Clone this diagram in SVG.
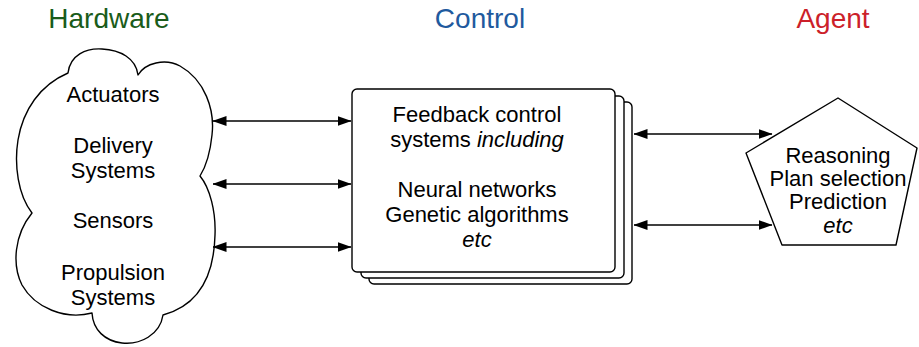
<svg xmlns="http://www.w3.org/2000/svg" width="919" height="347" viewBox="0 0 919 347">
<style>
  .t { font-family: "Liberation Sans", Arial, Helvetica, sans-serif; font-size: 22px; fill: #000; text-anchor: middle; }
  .i { font-style: italic; }
  .h { font-family: "Liberation Sans", Arial, Helvetica, sans-serif; font-size: 28px; text-anchor: middle; }
  .shape { fill: #fff; stroke: #000; stroke-width: 1.4; stroke-linejoin: round; }
  .conn { stroke: #000; stroke-width: 1.4; fill: none; marker-start: url(#ah); marker-end: url(#ah); }
</style>
<defs>
  <marker id="ah" viewBox="0 0 14 10" refX="13.5" refY="5" markerWidth="14" markerHeight="10" markerUnits="userSpaceOnUse" orient="auto-start-reverse">
    <path d="M0,0 L14,5 L0,10 Z" fill="#000"/>
  </marker>
</defs>
<rect width="919" height="347" fill="#fff"/>

<g id="titles">
  <text class="h" x="109" y="28" fill="#1a5c1a">Hardware</text>
  <text class="h" x="480" y="28" fill="#1f5a9e">Control</text>
  <text class="h" x="833" y="28" fill="#cc1f2a">Agent</text>
</g>

<g id="hardware">
  <path class="shape" d="M68,73 C70,55 86,48 102,49 C120,50 136,58 138,75 C145,63 165,58 180,66 C205,80 215,110 212,135 C210,155 205,168 200,176 C210,188 216,212 215,235 C214,275 200,305 163,315 C160,335 140,345 122,343 C105,341 93,330 92,313 C65,320 35,308 22,285 C12,265 14,235 32,213 C18,195 14,165 18,140 C23,110 40,85 68,73 Z"/>
  <text class="t" x="113" y="102">Actuators</text>
  <text class="t" x="113" y="153">Delivery</text>
  <text class="t" x="113" y="178">Systems</text>
  <text class="t" x="113" y="228">Sensors</text>
  <text class="t" x="113" y="280">Propulsion</text>
  <text class="t" x="113" y="305">Systems</text>
</g>

<g id="control">
  <rect class="shape" x="369" y="102" width="263" height="182" rx="5"/>
  <rect class="shape" x="361" y="96" width="263" height="182" rx="5"/>
  <rect class="shape" x="352" y="89" width="263" height="183" rx="5"/>
  <text class="t" x="477" y="122">Feedback control</text>
  <text class="t" x="477" y="147">systems <tspan class="i">including</tspan></text>
  <text class="t" x="477" y="197">Neural networks</text>
  <text class="t" x="477" y="222">Genetic algorithms</text>
  <text class="t i" x="477" y="247">etc</text>
</g>

<g id="agent">
  <polygon class="shape" points="838,98 917,148 896,245 782,245 746,153"/>
  <text class="t" x="838" y="163">Reasoning</text>
  <text class="t" x="838" y="186">Plan selection</text>
  <text class="t" x="838" y="209">Prediction</text>
  <text class="t i" x="838" y="233">etc</text>
</g>

<g id="connectors">
  <line class="conn" x1="213" y1="121" x2="351" y2="121"/>
  <line class="conn" x1="213" y1="184" x2="351" y2="184"/>
  <line class="conn" x1="213" y1="247" x2="351" y2="247"/>
  <line class="conn" x1="634" y1="134" x2="772" y2="134"/>
  <line class="conn" x1="634" y1="225" x2="772" y2="225"/>
</g>
</svg>
